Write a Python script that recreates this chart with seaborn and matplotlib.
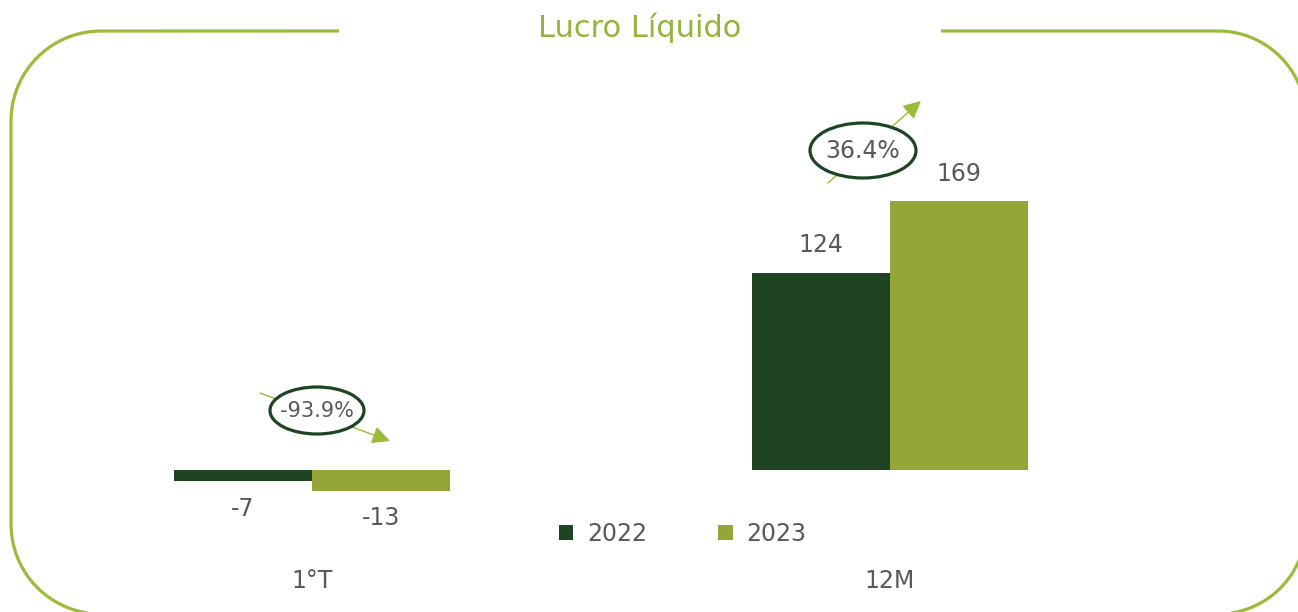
import matplotlib
matplotlib.use("Agg")
import matplotlib.pyplot as plt
from matplotlib.patches import Ellipse
from matplotlib.lines import Line2D
import numpy as np
import seaborn as sns
import pandas as pd

# ---- data ----
categories = ["1°T", "12M"]
years = ["2022", "2023"]
values_2022 = [-7, 124]
values_2023 = [-13, 169]
growth_labels = ["-93.9%", "36.4%"]
title = "Lucro Líquido"

# ---- style ----
sns.set_theme(style="white")
plt.rcParams["font.family"] = ["DejaVu Sans"]
DARK = "#1e4423"
LIGHT = "#93a637"
FRAME = "#9bbb3b"
GRAY = "#595959"

df = pd.DataFrame({
    "cat": categories * 2,
    "year": [years[0]] * len(categories) + [years[1]] * len(categories),
    "value": values_2022 + values_2023,
})

W, H = 1298, 612
fig = plt.figure(figsize=(W / 100, H / 100), dpi=100)
fig.patch.set_facecolor("white")

px_per_unit = 1.59
y_lo, y_hi = -30, 250
zero_px = 470
ax_top_px = zero_px - y_hi * px_per_unit
ax_bot_px = zero_px - y_lo * px_per_unit
ax = fig.add_axes([23 / W, (H - ax_bot_px) / H, 1156 / W, (ax_bot_px - ax_top_px) / H])

sns.barplot(data=df, x="cat", y="value", hue="year", order=categories,
            hue_order=years, palette=[DARK, LIGHT], width=0.477, saturation=1,
            errorbar=None, linewidth=0, ax=ax, legend=True)

ax.set_xlim(-0.5, 1.5)
ax.set_ylim(y_lo, y_hi)
ax.set_facecolor("none")
for s in ax.spines.values():
    s.set_visible(False)
ax.set_yticks([])
ax.set_xlabel("")
ax.set_ylabel("")
ax.tick_params(axis="x", length=0, pad=37, labelsize=17, labelcolor=GRAY)

# value labels
for cont in ax.containers:
    for bar in cont:
        v = bar.get_height()
        cx = bar.get_x() + bar.get_width() / 2
        off = 20 if v >= 0 else -20
        ax.annotate(f"{v:.0f}", xy=(cx, v), xytext=(0, off), textcoords="offset points",
                    ha="center", va="center", fontsize=17, color=GRAY)

# legend
handles, labels = ax.get_legend_handles_labels()
ax.legend_.remove()
fig.legend(handles, labels, loc="center", bbox_to_anchor=(683 / W, 1 - 534 / H),
           ncol=2, frameon=False, fontsize=17, labelcolor=GRAY,
           handlelength=0.6, handleheight=0.6, handletextpad=0.6, columnspacing=3.0)

# growth annotations (ellipse + arrow), positioned in data coords
def px2d(px, py):
    return ((px - 312) / 578, (zero_px - py) / px_per_unit)

ann = [
    # ellipse center, w, h (px), arrow start, arrow end (px), text size
    ((317, 410.5), 94, 47, (260, 393), (390, 441), 15),
    ((863, 150.5), 106, 55, (828, 183), (921, 101), 17),
]
for lab, (c, w, h, a0, a1, fs) in zip(growth_labels, ann):
    ax.annotate("", xy=px2d(*a1), xytext=px2d(*a0),
                arrowprops=dict(arrowstyle="-|>,head_length=0.9,head_width=0.45",
                                color=FRAME, lw=1.0, shrinkA=0, shrinkB=0),
                annotation_clip=False, zorder=3)
    cx, cy = px2d(*c)
    e = Ellipse((cx, cy), w / 578, h / px_per_unit, facecolor="white",
                edgecolor=DARK, lw=2.3, zorder=4, clip_on=False)
    ax.add_patch(e)
    ax.text(cx, cy, lab, ha="center", va="center", fontsize=fs, color=GRAY, zorder=5)

# frame: rounded outline with a gap for the title (pixel units, top-down)
def arc(cx, cy, r, a0, a1, n=90):
    t = np.radians(np.linspace(a0, a1, n))
    return cx + r * np.cos(t), cy - r * np.sin(t)

L, T, R, B = 11, 31, 1306, 614
rl, rr = 90, 88
xs, ys = [339.0], [T]
for (x_, y_) in [arc(L + rl, T + rl, rl, 90, 180),
                 arc(L + rl, B - rl, rl, 180, 270),
                 arc(R - rr, B - rr, rr, 270, 360),
                 arc(R - rr, T + rr, rr, 0, 90)]:
    xs.extend(x_)
    ys.extend(y_)
xs.append(941.0)
ys.append(T)
xs = np.array(xs)
ys = np.array(ys)
inside = (xs <= W + 2) & (ys <= H + 2)
runs, cur = [], []
for xi, yi, ok in zip(xs, ys, inside):
    if ok:
        cur.append((xi, yi))
    elif cur:
        runs.append(cur)
        cur = []
if cur:
    runs.append(cur)
for run in runs:
    rx = np.array([p[0] for p in run]) / 100
    ry = (H - np.array([p[1] for p in run])) / 100
    fig.add_artist(Line2D(rx, ry, transform=fig.dpi_scale_trans, color=FRAME,
                          lw=2.3, solid_capstyle="butt", solid_joinstyle="round"))

fig.text(640 / W, 1 - 37 / H, title, ha="center", va="baseline",
         fontsize=22, color="#92b43a", zorder=3)

fig.savefig("out.png", dpi=100, facecolor="white")
